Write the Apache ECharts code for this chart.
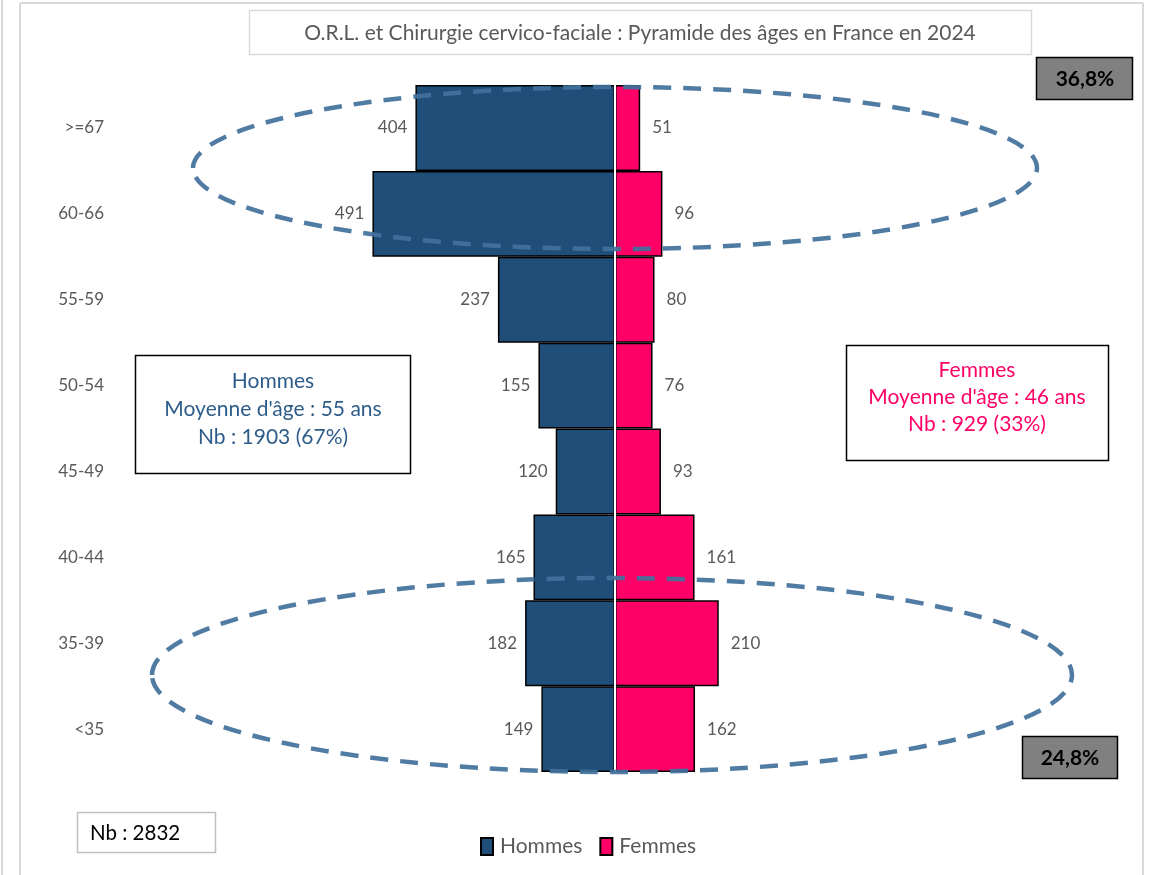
<!DOCTYPE html>
<html>
<head>
<meta charset="utf-8">
<script src="https://cdn.jsdelivr.net/npm/echarts@6/dist/echarts.min.js"></script>
<style>
  html, body { margin: 0; padding: 0; background: #fff; }
  #chart { width: 1153px; height: 875px; }
</style>
</head>
<body>
<div id="chart"></div>
<script>
// tranches d'âge, du bas vers le haut
const categories = ['<35', '35-39', '40-44', '45-49', '50-54', '55-59', '60-66', '>=67'];
const hommes = [149, 182, 165, 120, 155, 237, 491, 404];
const femmes = [162, 210, 161, 93, 76, 80, 96, 51];

const FONT = 'Lato, "Open Sans", sans-serif';
const GREY = '#595959';

let myChart = echarts.init(document.getElementById('chart'));

function box(x, y, w, h, fill, stroke, lw) {
  return {
    type: 'rect', shape: { x: x, y: y, width: w, height: h },
    style: { fill: fill, stroke: stroke, lineWidth: lw }, z: 50, silent: true
  };
}
function txt(x, y, text, color, size, weight, align) {
  return {
    type: 'text', x: x, y: y, z: 51, silent: true,
    style: {
      text: text, fill: color, fontSize: size, fontFamily: FONT,
      fontWeight: weight || 'normal', textAlign: align || 'center', textVerticalAlign: 'middle'
    }
  };
}

let option = {
  animation: false,
  backgroundColor: '#fff',
  grid: { left: 121, right: 44, top: 85, bottom: 103, containLabel: false },
  legend: {
    data: ['Hommes', 'Femmes'],
    left: 475,
    top: 831,
    itemWidth: 12,
    itemHeight: 17,
    itemGap: 17,
    icon: 'rect',
    textStyle: { color: GREY, fontSize: 21, fontFamily: FONT, padding: [0, 0, 0, 2] }
  },
  xAxis: {
    type: 'value',
    min: -1000,
    max: 1000,
    show: false
  },
  yAxis: {
    type: 'category',
    data: categories,
    axisLine: { show: false },
    axisTick: { show: false },
    splitLine: { show: false },
    axisLabel: { color: GREY, fontSize: 17, fontFamily: FONT, margin: 17 }
  },
  series: [
    {
      name: 'Hommes',
      type: 'bar',
      stack: 'pyr',
      barCategoryGap: 0,
      data: hommes.map(v => -v),
      itemStyle: { color: '#1F4E79', borderColor: '#000', borderWidth: 1.5 },
      label: {
        show: true, position: 'left', distance: 8,
        color: GREY, fontSize: 17, fontFamily: FONT,
        formatter: p => Math.abs(p.value)
      },
      markLine: {
        silent: true, symbol: 'none', label: { show: false },
        lineStyle: { color: '#fff', width: 2, type: 'solid' },
        data: [{ xAxis: 0 }]
      }
    },
    {
      name: 'Femmes',
      type: 'bar',
      stack: 'pyr',
      barCategoryGap: 0,
      data: femmes,
      itemStyle: { color: '#FF0066', borderColor: '#000', borderWidth: 1.5 },
      label: {
        show: true, position: 'right', distance: 12,
        color: GREY, fontSize: 17, fontFamily: FONT
      }
    }
  ],
  graphic: [
    // cadre
    { type: 'line', shape: { x1: 20, y1: 3, x2: 1143, y2: 3 }, style: { stroke: '#d9d9d9', lineWidth: 2 }, silent: true },
    { type: 'line', shape: { x1: 20, y1: 3, x2: 20, y2: 875 }, style: { stroke: '#d9d9d9', lineWidth: 2 }, silent: true },
    { type: 'line', shape: { x1: 2, y1: 0, x2: 2, y2: 875 }, style: { stroke: '#d9d9d9', lineWidth: 2 }, silent: true },
    { type: 'line', shape: { x1: 1143, y1: 3, x2: 1143, y2: 875 }, style: { stroke: '#d9d9d9', lineWidth: 2 }, silent: true },
    // titre
    box(249.5, 10.5, 782, 44, '#fff', '#d9d9d9', 1.5),
    txt(640, 33, "O.R.L. et Chirurgie cervico-faciale : Pyramide des âges en France en 2024", GREY, 21),
    // ellipses
    {
      type: 'ellipse', z: 60, silent: true,
      shape: { cx: 615, cy: 168, rx: 422, ry: 81 },
      style: { fill: 'none', stroke: '#41719C', lineWidth: 4.5, lineDash: [18, 12], opacity: 0.92 }
    },
    {
      type: 'ellipse', z: 60, silent: true,
      shape: { cx: 612, cy: 675, rx: 460, ry: 97 },
      style: { fill: 'none', stroke: '#41719C', lineWidth: 4.5, lineDash: [18, 12], opacity: 0.92 }
    },
    // pourcentages
    box(1036.5, 57.5, 96, 42, '#808080', '#000', 1.5),
    txt(1085, 79, '36,8%', '#000', 21, 'bold'),
    box(1022.5, 736.5, 95, 42, '#808080', '#000', 1.5),
    txt(1070, 758, '24,8%', '#000', 21, 'bold'),
    // encadré hommes
    box(135.5, 355.5, 275, 118, '#fff', '#000', 1.5),
    txt(273, 381, 'Hommes', '#2E5C8A', 21),
    txt(273, 409, "Moyenne d'âge : 55 ans", '#2E5C8A', 21),
    txt(273, 437, 'Nb : 1903 (67%)', '#2E5C8A', 21),
    // encadré femmes
    box(846.5, 345.5, 262, 115, '#fff', '#000', 1.5),
    txt(977, 370, 'Femmes', '#FF0066', 21),
    txt(977, 397, "Moyenne d'âge : 46 ans", '#FF0066', 21),
    txt(977, 424, 'Nb : 929 (33%)', '#FF0066', 21),
    // total
    box(77.5, 812.5, 138, 40, '#fff', '#bfbfbf', 1.5),
    txt(90, 833, 'Nb : 2832', '#000', 20.5, 'normal', 'left')
  ]
};

myChart.setOption(option);
window.addEventListener('resize', () => {
  myChart.resize();
}, true);
</script>
</body>
</html>
